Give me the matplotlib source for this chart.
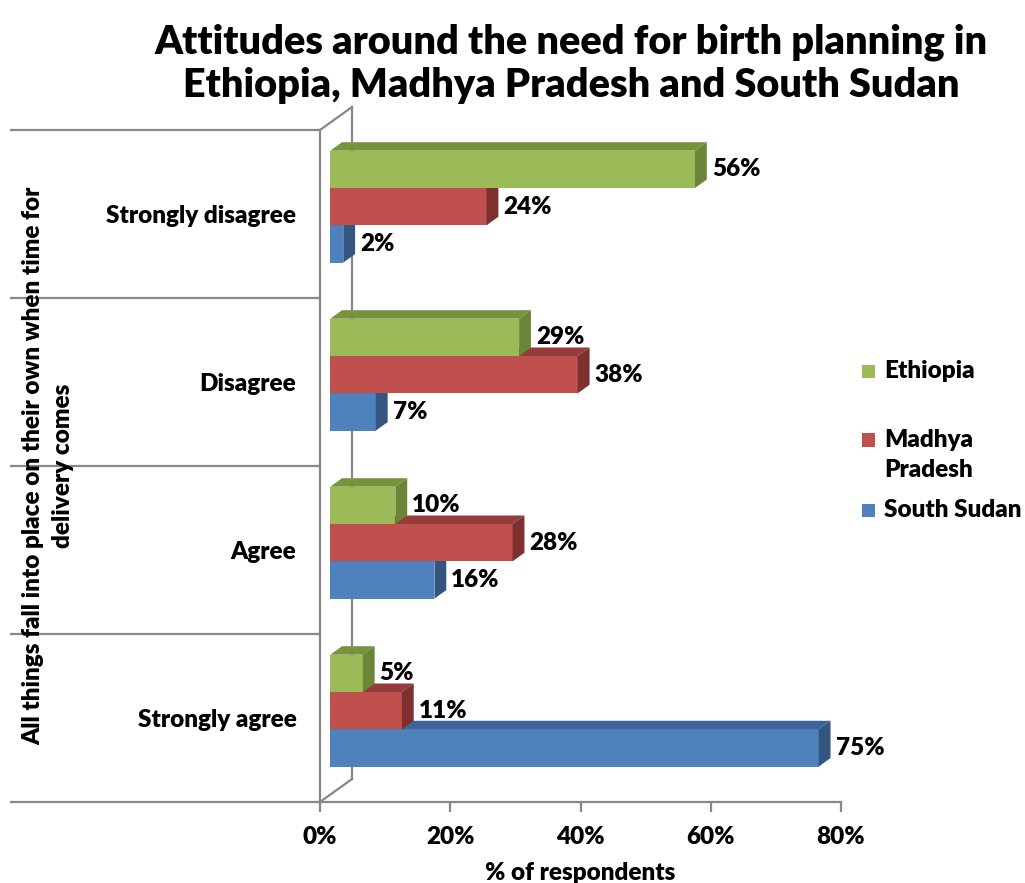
import matplotlib
matplotlib.use("Agg")
import matplotlib.pyplot as plt
from matplotlib.patches import Polygon, Rectangle

# 回答カテゴリ（下から上の順）
categories = ["Strongly agree", "Agree", "Disagree", "Strongly disagree"]
group_label = "All things fall into place on their own when time for\ndelivery comes"

# 各地域の回答割合（%）
ethiopia = [5, 10, 29, 56]
madhya_pradesh = [11, 28, 38, 24]
south_sudan = [75, 16, 7, 2]

series_names = ["Ethiopia", "Madhya Pradesh", "South Sudan"]
x_ticks = [0, 20, 40, 60, 80]
x_tick_labels = ["0%", "20%", "40%", "60%", "80%"]

# 3D風の色（前面・上面・側面）
FACE_COLORS = {
    "Ethiopia":       ("#9BBB59", "#77933C", "#6B8636"),
    "Madhya Pradesh": ("#C0504D", "#963C3A", "#7E302F"),
    "South Sudan":    ("#4F81BD", "#3D6597", "#34557F"),
}

FONT = "Lato"
WEIGHT = "heavy"
FS = 17.5
W, H, DPI = 1025, 883, 100

# 斜投影の奥行き（データ単位、壁の奥行き全体）
WALL_DX = 32 * 80 / 521
WALL_DY = 23 / 168
BAR_FRONT = 0.32   # 棒の前面の奥行き位置
BAR_BACK = 0.69    # 棒の背面の奥行き位置
BAR_H = 0.222
WALL_COLOR = "#878787"


def proj(x, y, depth):
    """奥行き depth (0-1) の点を斜投影した座標に変換する"""
    return x + depth * WALL_DX, y + depth * WALL_DY


plt.rcParams["font.family"] = [FONT, "DejaVu Sans"]
plt.rcParams["font.weight"] = WEIGHT

fig = plt.figure(figsize=(W / DPI, H / DPI), dpi=DPI)
ax = fig.add_axes([320 / W, 81 / H, 521 / W, 672 / H])
ax.set_xlim(0, 80)
ax.set_ylim(-0.5, 3.5)

# 棒（下の系列から順に描いて、上の棒の前面が下の棒の上面を隠すようにする）
series_values = [ethiopia, madhya_pradesh, south_sudan]
offsets = [BAR_H, 0.0, -BAR_H]
for order, idx in enumerate([2, 1, 0]):
    name = series_names[idx]
    front, top, side = FACE_COLORS[name]
    z = 3 + order
    for i, v in enumerate(series_values[idx]):
        y0 = i + offsets[idx] - BAR_H / 2
        y1 = y0 + BAR_H
        x0f, y0f = proj(0, y0, BAR_FRONT)
        x1f, y1f = proj(v, y1, BAR_FRONT)
        x0b, y1b = proj(0, y1, BAR_BACK)
        x1b, y0b = proj(v, y0, BAR_BACK)
        ax.barh(y0f + BAR_H / 2, x1f - x0f, left=x0f, height=BAR_H,
                color=front, zorder=z, clip_on=False)
        ax.add_patch(Polygon([(x0f, y1f), (x1f, y1f), (x1b, y1b), (x0b, y1b)],
                             closed=True, facecolor=top, edgecolor="none",
                             zorder=z, clip_on=False))
        ax.add_patch(Polygon([(x1f, y0f), (x1f, y1f), (x1b, y1b), (x1b, y0b)],
                             closed=True, facecolor=side, edgecolor="none",
                             zorder=z, clip_on=False))
        # ラベルは棒の背面の右端の少し右
        ax.annotate(f"{v}%", (x1b, y0f + BAR_H / 2), xytext=(5, 0),
                    textcoords="offset pixels", ha="left", va="center",
                    fontsize=FS, fontweight=WEIGHT, zorder=10,
                    annotation_clip=False)

# 左側の壁（前面の縦線・奥の縦線・上下の斜線）
lw = 1.6
bx0, by0 = proj(0, -0.5, 1)
bx1, by1 = proj(0, 3.5, 1)
ax.plot([bx0, bx1], [by0, by1], color=WALL_COLOR, lw=lw, clip_on=False, zorder=2)
ax.plot([0, bx1], [3.5, by1], color=WALL_COLOR, lw=lw, clip_on=False, zorder=2)
ax.plot([0, bx0], [-0.5, by0], color=WALL_COLOR, lw=lw, clip_on=False, zorder=2)

# カテゴリの区切り線（左の見出し欄まで伸ばす）
ax.hlines([-0.5, 0.5, 1.5, 2.5, 3.5], (10 - 320) / 521, 0,
          transform=ax.get_yaxis_transform(), color=WALL_COLOR, lw=lw,
          clip_on=False)

for s in ["top", "right"]:
    ax.spines[s].set_visible(False)
for s in ["left", "bottom"]:
    ax.spines[s].set_color(WALL_COLOR)
    ax.spines[s].set_linewidth(lw)

ax.set_yticks(range(len(categories)))
ax.set_yticklabels(categories, fontsize=FS, fontweight=WEIGHT)
ax.tick_params(axis="y", length=0, pad=17)
ax.set_xticks(x_ticks)
ax.set_xticklabels(x_tick_labels, fontsize=FS, fontweight=WEIGHT)
ax.tick_params(axis="x", length=7, width=lw, color=WALL_COLOR, pad=10)
ax.set_xlabel("% of respondents", fontsize=FS, fontweight=WEIGHT, labelpad=10)

ax.text((48 - 320) / 521, 0.5, group_label, transform=ax.transAxes,
        rotation=90, ha="center", va="center", multialignment="center",
        fontsize=FS, fontweight=WEIGHT, linespacing=1.4)

# タイトル
fig.text(571 / W, 1 - 64 / H,
         "Attitudes around the need for birth planning in\n"
         "Ethiopia, Madhya Pradesh and South Sudan",
         ha="center", va="center", fontsize=28.5, fontweight=WEIGHT,
         linespacing=1.2)

# 凡例（手描き、四角は各項目の1行目にそろえる）
legend_rows = [("Ethiopia", 371), ("Madhya\nPradesh", 440), ("South Sudan", 510)]
line_h = 30
for name, (label, y_px) in zip(series_names, legend_rows):
    n_lines = label.count("\n") + 1
    fig.add_artist(Rectangle((862 / W, 1 - (y_px + 6.5) / H), 13 / W, 13 / H,
                             transform=fig.transFigure,
                             facecolor=FACE_COLORS[name][0], edgecolor="none"))
    center = y_px + (n_lines - 1) * line_h / 2
    fig.text(884 / W, 1 - center / H, label, ha="left", va="center",
             fontsize=FS, fontweight=WEIGHT, linespacing=1.45)

fig.savefig("out.png", dpi=DPI)
